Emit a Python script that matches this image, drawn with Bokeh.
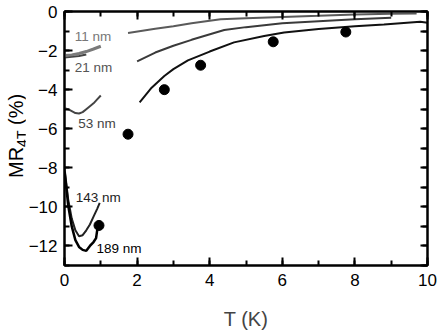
from bokeh.plotting import figure
from bokeh.models import LinearAxis, SingleIntervalTicker, Range1d, ColumnDataSource, Div
from bokeh.layouts import row
from bokeh.core.properties import value
from bokeh.embed import file_html
from bokeh.resources import INLINE

FONT = "Liberation Sans"

# ---- data ----
T_11_low = [0.0, 0.2, 0.4, 0.6, 0.8, 1.0]
MR_11_low = [-2.25, -2.22, -2.15, -2.05, -1.92, -1.78]
T_21_low = [0.0, 0.2, 0.4, 0.6]
MR_21_low = [-2.35, -2.32, -2.28, -2.2]
T_53 = [0.0, 0.1, 0.2, 0.3, 0.4, 0.5, 0.6, 0.7, 0.8, 0.9, 1.0]
MR_53 = [-4.95, -5.0, -5.1, -5.2, -5.22, -5.15, -5.0, -4.85, -4.7, -4.5, -4.3]
T_143 = [0.0, 0.05, 0.1, 0.2, 0.3, 0.4, 0.5, 0.6, 0.7, 0.8, 0.9, 0.97]
MR_143 = [-8.0, -8.8, -9.6, -10.6, -11.2, -11.5, -11.45, -11.2, -10.9, -10.5, -10.1, -9.8]
T_189 = [0.0, 0.05, 0.1, 0.2, 0.3, 0.4, 0.5, 0.6, 0.7, 0.8, 0.87, 0.9, 0.95]
MR_189 = [-8.2, -9.0, -9.9, -11.0, -11.7, -12.05, -12.2, -12.25, -12.0, -11.8, -11.6, -11.2, -10.95]

T_hi_a = [1.75, 2.5, 3.0, 3.5, 4.3, 5.0, 6.0, 7.0, 8.0, 9.0, 9.7]
MR_hi_a = [-1.1, -0.88, -0.75, -0.6, -0.4, -0.35, -0.28, -0.22, -0.15, -0.12, -0.1]
T_hi_b = [2.0, 2.5, 3.0, 3.5, 4.4, 5.0, 6.0, 7.0, 8.0, 9.0]
MR_hi_b = [-2.55, -2.1, -1.75, -1.45, -0.95, -0.8, -0.6, -0.5, -0.4, -0.32]
T_hi_c = [2.07, 2.4, 2.75, 3.0, 3.4, 4.0, 4.67, 5.5, 6.05, 7.0, 8.0, 8.8, 9.8, 10.0]
MR_hi_c = [-4.65, -3.9, -3.3, -2.95, -2.5, -2.05, -1.58, -1.25, -1.07, -0.9, -0.75, -0.66, -0.52, -0.57]

T_dots = [0.95, 1.75, 2.75, 3.75, 5.75, 7.75]
MR_dots = [-10.95, -6.28, -4.0, -2.75, -1.55, -1.05]

label_text = ["11 nm", "21 nm", "53 nm", "143 nm", "189 nm"]
label_T = [0.28, 0.28, 0.38, 0.31, 0.88]
label_MR = [-1.3, -2.85, -5.75, -9.5, -12.15]
label_color = ["#777777", "#555555", "#444444", "#222222", "#000000"]

x_label = "T (K)"
y_label_main = "MR"
y_label_sub = "4T"
y_label_unit = " (%)"

X_RANGE = (0, 10)
Y_RANGE = (-13, 0)

LABEL_W = 25

p = figure(width=437 - LABEL_W, height=332, output_backend="svg", toolbar_location=None,
           x_range=Range1d(*X_RANGE), y_range=Range1d(*Y_RANGE),
           min_border_left=63 - LABEL_W, min_border_right=10, min_border_top=11, min_border_bottom=63)
p.xgrid.visible = False
p.ygrid.visible = False
p.outline_line_color = "black"
p.outline_line_width = 2
p.background_fill_color = "white"
p.border_fill_color = "white"

def style_axis(ax, show_labels=True, interval=2, minor=2):
    ax.ticker = SingleIntervalTicker(interval=interval, num_minor_ticks=minor)
    ax.axis_line_width = 2
    ax.major_tick_line_width = 2
    ax.minor_tick_line_width = 2
    ax.major_tick_in = 8
    ax.major_tick_out = 0
    ax.minor_tick_in = 5
    ax.minor_tick_out = 0
    ax.major_label_text_font = FONT
    ax.major_label_text_font_size = "17px"
    ax.major_label_text_color = "black"
    ax.major_label_standoff = 8
    if not show_labels:
        ax.major_label_text_font_size = "1px"
        ax.major_label_text_color = None
        ax.major_label_standoff = 0

style_axis(p.xaxis[0])
style_axis(p.yaxis[0])
p.yaxis[0].major_label_standoff = 7
p.xaxis[0].axis_label = x_label
p.xaxis[0].axis_label_text_font = FONT
p.xaxis[0].axis_label_text_font_size = "20px"
p.xaxis[0].axis_label_text_font_style = "normal"
p.xaxis[0].axis_label_standoff = 19

top = LinearAxis()
style_axis(top, show_labels=False)
p.add_layout(top, "above")
right = LinearAxis()
style_axis(right, show_labels=False, interval=1, minor=1)
right.major_tick_in = 7
p.add_layout(right, "right")

# curves
p.line(T_hi_a, MR_hi_a, line_color="#5a5a5a", line_width=2)
p.line(T_hi_b, MR_hi_b, line_color="#3a3a3a", line_width=2)
p.line(T_hi_c, MR_hi_c, line_color="#111111", line_width=2)
p.line(T_21_low, MR_21_low, line_color="#444444", line_width=2)
p.line(T_11_low, MR_11_low, line_color="#7a7a7a", line_width=3)
p.line(T_53, MR_53, line_color="#444444", line_width=2)
p.line(T_143, MR_143, line_color="#222222", line_width=2)
p.line(T_189, MR_189, line_color="#000000", line_width=2.5)
p.scatter(T_dots, MR_dots, size=10, color="black")

src = ColumnDataSource(dict(x=label_T, y=label_MR, t=label_text, c=label_color))
p.text(x="x", y="y", text="t", text_color="c", source=src,
       text_font=value(FONT), text_font_size="13.5px",
       text_align="left", text_baseline="middle")

# rotated y-axis label with a real subscript, as HTML text
ylab_html = (
    '<div style="position:relative;width:%dpx;height:332px;">'
    '<div style="position:absolute;left:5px;top:178px;transform:rotate(-90deg);'
    'transform-origin:0 0;white-space:nowrap;font-family:\'Liberation Sans\';'
    'font-size:20px;line-height:23px;color:black;">%s<span style="font-size:14px;'
    'position:relative;top:4px;">%s</span>%s</div></div>'
) % (LABEL_W, y_label_main, y_label_sub, y_label_unit)
ylab = Div(text=ylab_html, width=LABEL_W, height=332, margin=(0, 0, 0, 0))

layout = row(ylab, p, spacing=0)

open("out.html", "w").write(file_html(layout, INLINE))
